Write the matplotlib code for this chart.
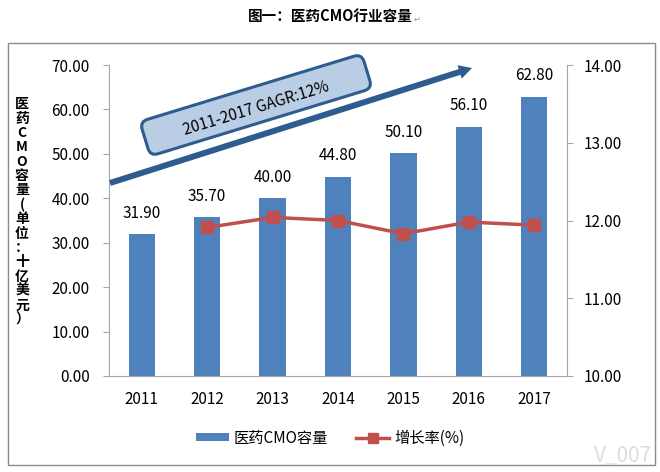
import numpy as np
import matplotlib.pyplot as plt
from matplotlib.patches import FancyBboxPatch, FancyArrow, Rectangle, Patch
from matplotlib.lines import Line2D
from matplotlib.transforms import Affine2D

plt.rcParams['font.family'] = ['Noto Sans CJK SC', 'DejaVu Sans']

years = ['2011', '2012', '2013', '2014', '2015', '2016', '2017']
capacity = [31.90, 35.70, 40.00, 44.80, 50.10, 56.10, 62.80]
growth_years = ['2012', '2013', '2014', '2015', '2016', '2017']
growth = [11.91, 12.04, 12.00, 11.83, 11.98, 11.94]

bar_color = '#4F81BD'
line_color = '#C0504D'
axis_gray = '#A6A6A6'


def main():
    fig = plt.figure(figsize=(6.6, 4.72), dpi=100)

    # outer frame and title
    fig.patches.append(Rectangle((8 / 660, 1 - 465 / 472), 647 / 660, 422 / 472,
                                 transform=fig.transFigure, fill=False,
                                 edgecolor='#8C8C8C', linewidth=1.0))
    fig.text(0.5, 1 - 16 / 472, '图一：医药CMO行业容量', ha='center', va='center',
             fontsize=10.5, fontweight='bold')
    fig.text(0.627, 1 - 19 / 472, '↵', ha='left', va='center', fontsize=6, color='#999999',
             family=['DejaVu Sans'])

    ax = fig.add_axes([109 / 660, 1 - 376 / 472, 458 / 660, 311 / 472])
    x = np.arange(len(years))
    bars = ax.bar(x, capacity, width=0.4, color=bar_color, zorder=2)
    ax.bar_label(bars, labels=[f'{v:.2f}' for v in capacity], padding=9, fontsize=11)
    ax.set_xlim(-0.5, len(years) - 0.5)
    ax.set_ylim(0, 70)
    ax.set_yticks(np.arange(0, 71, 10))
    ax.set_yticklabels([f'{v:.2f}' for v in np.arange(0, 71, 10)])
    ax.set_xticks(x)
    ax.set_xticklabels(years)
    ax.tick_params(axis='x', length=0, pad=11, labelsize=11)
    ax.tick_params(axis='y', length=4, color=axis_gray, pad=10, labelsize=11)
    for side in ['top', 'right']:
        ax.spines[side].set_visible(False)
    for side in ['left', 'bottom']:
        ax.spines[side].set_color(axis_gray)

    ax2 = ax.twinx()
    gx = [years.index(y) for y in growth_years]
    ax2.plot(gx, growth, color=line_color, linewidth=2.5, marker='s', markersize=8, zorder=3)
    ax2.set_ylim(10, 14)
    ax2.set_yticks(np.arange(10, 15, 1))
    ax2.set_yticklabels([f'{v:.2f}' for v in np.arange(10, 15, 1)])
    ax2.tick_params(axis='y', length=4, color=axis_gray, pad=8, labelsize=11)
    for side in ['top', 'left', 'bottom']:
        ax2.spines[side].set_visible(False)
    ax2.spines['right'].set_color(axis_gray)

    # vertical y label, characters stacked
    ylabel = '医药CMO容量(单位：十亿美元）'
    fig.text(22 / 660, 1 - 212 / 472, '\n'.join(ylabel), ha='center', va='center',
             fontsize=10, fontweight='bold', linespacing=1.03)

    # overlay in pixel coordinates for the trend arrow and box
    ov = fig.add_axes([0, 0, 1, 1], zorder=5)
    ov.set_xlim(0, 660)
    ov.set_ylim(0, 472)
    ov.axis('off')
    ov.patch.set_alpha(0)
    ov.add_patch(FancyArrow(110, 472 - 183, 362, 472 - 68 - (472 - 183), width=6,
                            head_width=14, head_length=13, length_includes_head=True,
                            color='#2F5C8E', linewidth=0))
    box_w, box_h = 232, 36
    box = FancyBboxPatch((-box_w / 2, -box_h / 2), box_w, box_h,
                         boxstyle='round,pad=0,rounding_size=8',
                         facecolor='#B9CDE5', edgecolor='#2F5C8E', linewidth=2.2,
                         transform=Affine2D().rotate_deg(17).translate(256, 472 - 105) + ov.transData)
    ov.add_patch(box)
    ov.text(256, 472 - 109, '2011-2017 GAGR:12%', rotation=17, rotation_mode='anchor',
            ha='center', va='center', fontsize=11)

    # watermark
    ov.text(594, 472 - 456, 'V_007', ha='left', va='center', fontsize=15, color='#DDDDDD')

    handles = [Patch(facecolor=bar_color, edgecolor='none'),
               Line2D([0], [0], color=line_color, linewidth=2.5, marker='s', markersize=7)]
    fig.legend(handles, ['医药CMO容量', '增长率(%)'], loc='center',
               bbox_to_anchor=(0.5, 1 - 438 / 472), ncol=2, frameon=False, fontsize=11,
               handlelength=2.2, handleheight=0.5, columnspacing=1.8, handletextpad=0.3)

    fig.savefig('out.png', dpi=100)


if __name__ == '__main__':
    main()
